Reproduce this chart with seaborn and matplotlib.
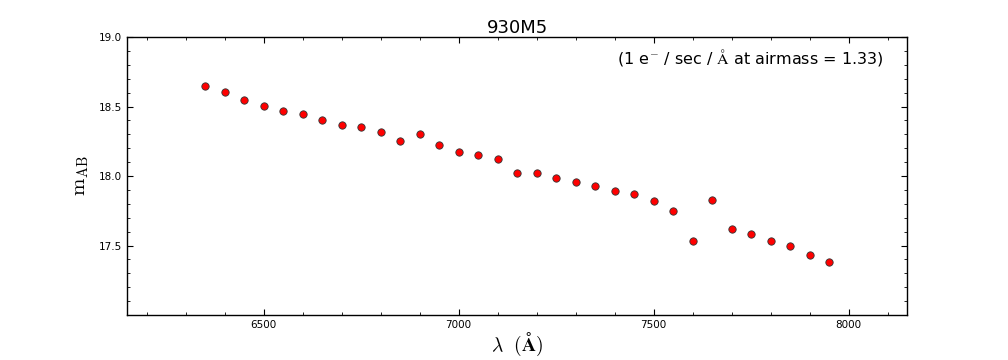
import numpy as np
import pandas as pd
import matplotlib
matplotlib.use("Agg")
import matplotlib.pyplot as plt
from matplotlib.ticker import MultipleLocator
import seaborn as sns

wavelength = [6350, 6400, 6450, 6500, 6550, 6600, 6650, 6700, 6750, 6800,
              6850, 6900, 6950, 7000, 7050, 7100, 7150, 7200, 7250, 7300,
              7350, 7400, 7450, 7500, 7550, 7600, 7650, 7700, 7750, 7800,
              7850, 7900, 7950]
m_ab = [18.65, 18.605, 18.55, 18.505, 18.47, 18.45, 18.405, 18.37, 18.35, 18.32,
        18.25, 18.30, 18.22, 18.175, 18.155, 18.125, 18.025, 18.025, 17.985, 17.955,
        17.93, 17.89, 17.87, 17.82, 17.745, 17.53, 17.83, 17.62, 17.58, 17.53,
        17.495, 17.435, 17.38]
title = "930M5"
note = r"(1 e$^{-}$ / sec / $\mathrm{\AA}$ at airmass = 1.33)"

df = pd.DataFrame({"wavelength": wavelength, "m_ab": m_ab})

sns.set_theme(style="ticks")
plt.rcParams["font.family"] = ["DejaVu Sans"]
plt.rcParams["mathtext.fontset"] = "cm"
plt.rcParams["text.color"] = "black"
plt.rcParams["axes.labelcolor"] = "black"
plt.rcParams["xtick.color"] = "black"
plt.rcParams["ytick.color"] = "black"

fig = plt.figure(figsize=(10.08, 3.6), dpi=100)
ax = fig.add_axes([0.126, 0.125, 0.774, 0.772])

sns.scatterplot(data=df, x="wavelength", y="m_ab", ax=ax, color="red",
                edgecolor="#333333", linewidth=0.6, s=28, zorder=3)

ax.set_xlim(6150, 8150)
ax.set_ylim(17.0, 19.0)
ax.set_xticks([6500, 7000, 7500, 8000])
ax.set_yticks([17.5, 18.0, 18.5, 19.0])
ax.xaxis.set_minor_locator(MultipleLocator(100))
ax.yaxis.set_minor_locator(MultipleLocator(0.1))
ax.tick_params(which="both", direction="in", top=True, right=True,
               labelsize=7.5, color="black", labelcolor="black")
ax.tick_params(which="major", length=4, width=0.8)
ax.tick_params(which="minor", length=2, width=0.6)
for sp in ax.spines.values():
    sp.set_linewidth(1.0)
    sp.set_color("black")

ax.set_xlabel(r"$\lambda\ \ (\mathbf{\AA})$", fontsize=14, labelpad=1)
ax.set_ylabel(r"$\mathrm{m_{AB}}$", fontsize=15, labelpad=6)
ax.set_title(title, fontsize=13, pad=3, color="black")
ax.text(0.97, 0.965, note, transform=ax.transAxes, ha="right", va="top",
        fontsize=11.5, color="black")

fig.savefig("out.png", dpi=100)
